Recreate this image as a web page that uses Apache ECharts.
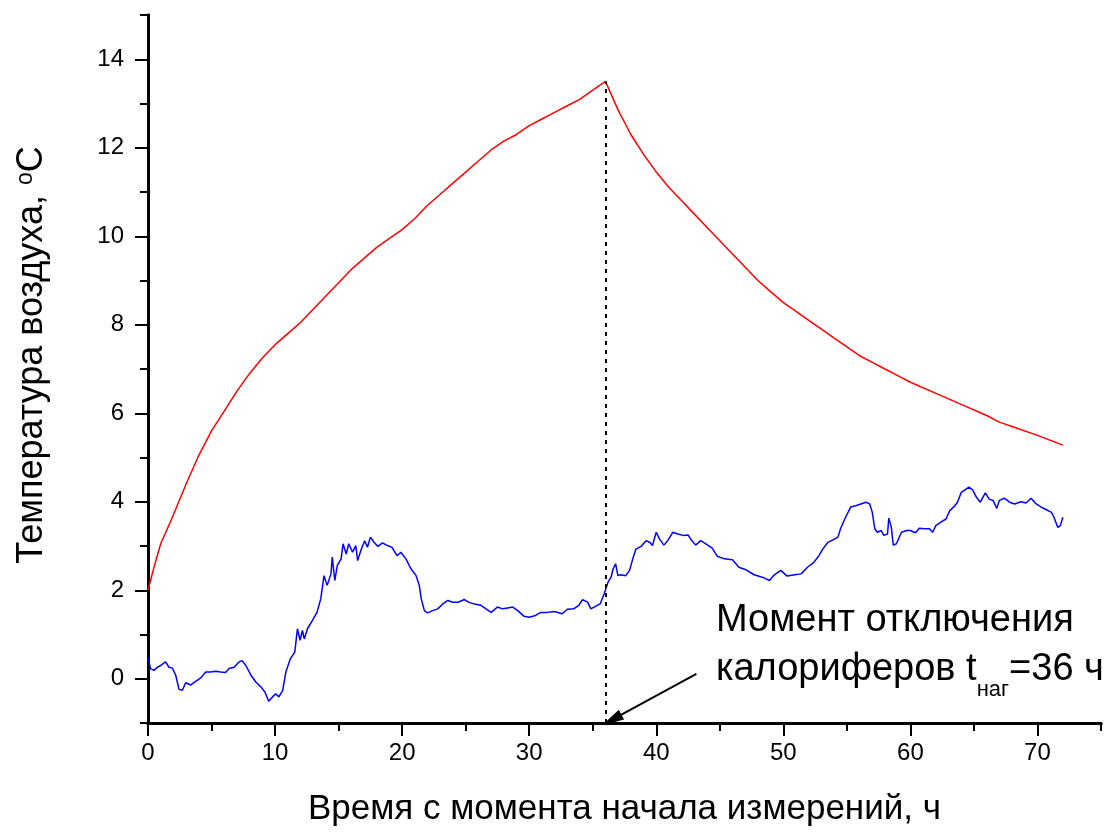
<!DOCTYPE html>
<html><head><meta charset="utf-8">
<script src="https://cdn.jsdelivr.net/npm/echarts@6/dist/echarts.min.js"></script>
<style>html,body{margin:0;padding:0;background:#fff}#c{width:1107px;height:832px}</style>
</head><body><div id="c"></div>
<script>
// ---- data ----
const redT = [0,0.5,1,1.86,3,4,5,6,7,8,9,10,11,12,13,14,15,16,17,18,19,20,21,22,23,24,25,26,27,28,29,30,31,32,33,34,35,36,37,38,39,40,41,42,43,44,45,46,47,48,49,50,51,52,53,54,55,56,57,58,59,60,62,64,66,67,68,70,72];
const redV = [2.0,2.55,3.05,3.61,4.4,5.05,5.6,6.05,6.5,6.9,7.25,7.55,7.8,8.05,8.35,8.65,8.95,9.25,9.5,9.75,9.95,10.15,10.4,10.7,10.95,11.2,11.45,11.7,11.95,12.15,12.3,12.5,12.65,12.8,12.95,13.1,13.3,13.5,12.85,12.3,11.85,11.45,11.1,10.8,10.5,10.2,9.9,9.6,9.3,9.0,8.75,8.5,8.3,8.1,7.9,7.7,7.5,7.3,7.15,7.0,6.85,6.7,6.45,6.2,5.95,5.8,5.7,5.5,5.28];
const blueT = [0,0.2,0.47,0.73,1.0,1.39,1.65,1.92,2.18,2.44,2.7,2.97,3.36,3.75,4.15,4.54,4.93,5.33,5.72,6.1,6.38,6.77,7.17,7.4,7.7,8.1,8.5,8.9,9.2,9.5,9.8,10.05,10.3,10.6,10.85,11.2,11.55,11.76,11.97,12.15,12.3,12.55,12.94,13.3,13.6,13.85,14.1,14.4,14.5,14.7,14.9,15.2,15.35,15.6,15.8,16.1,16.35,16.5,16.75,17.05,17.27,17.5,17.8,18.1,18.45,18.85,19.2,19.6,19.9,20.3,20.7,21.1,21.35,21.5,21.75,22.0,22.4,22.8,23.2,23.6,23.97,24.4,24.9,25.3,25.7,26.2,26.6,27.0,27.5,27.9,28.3,28.7,29.1,29.6,30.0,30.5,30.9,31.4,31.97,32.6,33.0,33.5,33.9,34.2,34.6,34.85,35.25,35.6,35.9,36.2,36.45,36.6,36.8,36.98,37.2,37.6,37.9,38.15,38.4,38.8,39.2,39.5,39.7,40.0,40.25,40.6,40.9,41.3,41.7,42.1,42.5,42.7,43.1,43.5,43.9,44.4,44.8,45.35,46.0,46.5,47.0,47.7,48.4,48.9,49.3,49.8,50.3,50.9,51.4,51.9,52.4,52.8,53.1,53.5,53.9,54.3,54.5,54.9,55.3,55.7,56.1,56.5,56.8,57.0,57.2,57.4,57.7,57.9,58.2,58.3,58.5,58.65,58.9,59.3,59.7,60.0,60.4,60.7,61.1,61.5,61.75,62.0,62.4,62.8,63.1,63.5,63.7,64.0,64.3,64.6,64.9,65.2,65.5,65.7,65.9,66.2,66.5,66.8,67.0,67.4,67.8,68.2,68.7,69.1,69.5,69.9,70.3,70.7,71.1,71.3,71.6,71.8,72.0];
const blueV = [0.49,0.23,0.19,0.26,0.30,0.38,0.26,0.24,0.08,-0.24,-0.26,-0.09,-0.14,-0.06,0.02,0.15,0.15,0.17,0.15,0.14,0.23,0.26,0.38,0.41,0.30,0.08,-0.08,-0.19,-0.30,-0.51,-0.41,-0.34,-0.41,-0.26,0.15,0.45,0.60,1.13,0.87,1.09,0.90,1.13,1.32,1.50,1.81,2.33,2.11,2.37,2.75,2.22,2.56,2.71,3.05,2.82,3.05,2.86,3.01,2.67,2.90,3.12,2.97,3.20,3.08,2.99,3.07,3.01,2.97,2.78,2.86,2.71,2.48,2.33,2.11,1.81,1.54,1.49,1.54,1.58,1.69,1.77,1.73,1.73,1.79,1.72,1.69,1.66,1.58,1.50,1.62,1.58,1.60,1.62,1.54,1.41,1.39,1.43,1.50,1.50,1.52,1.47,1.57,1.58,1.66,1.79,1.73,1.58,1.64,1.70,1.92,2.18,2.30,2.48,2.60,2.33,2.35,2.33,2.45,2.71,2.93,2.99,3.12,3.08,3.01,3.31,3.16,3.02,3.12,3.31,3.27,3.24,3.25,3.16,3.02,3.12,3.05,2.95,2.77,2.71,2.69,2.52,2.47,2.35,2.29,2.22,2.35,2.45,2.32,2.35,2.37,2.52,2.63,2.78,2.93,3.08,3.14,3.20,3.39,3.65,3.88,3.91,3.95,3.99,3.95,3.76,3.39,3.31,3.35,3.24,3.27,3.63,3.42,3.02,3.05,3.31,3.35,3.35,3.30,3.40,3.39,3.39,3.31,3.46,3.54,3.61,3.80,3.91,3.99,4.21,4.27,4.33,4.27,4.10,3.99,4.10,4.20,4.06,4.03,3.85,4.03,4.08,3.99,3.95,4.00,3.97,4.08,3.95,3.88,3.82,3.76,3.65,3.42,3.46,3.65];
const xMajorTicks = [0,10,20,30,40,50,60,70];
const xMinorTicks = [5,15,25,35,45,55,65,75];
const yMajorTicks = [0,2,4,6,8,10,12,14];
const yMinorTicks = [-1,1,3,5,7,9,11,13,15];
const heaterOffTime = 36;
const heaterOffPeak = 13.5;
const arrowStart = [43.16, 0.11];
const arrowEnd = [36.5, -0.93];
const xTitle = 'Время с момента начала измерений, ч';
const yTitle = 'Температура воздуха, {sup|o}C';
const noteLine1 = 'Момент отключения';
const noteLine2a = 'калориферов t';
const noteSub = 'наг';
const noteLine2b = '=36 ч';

// ---- chart ----
const fam = "'Liberation Sans', Arial, sans-serif";
const ctx2 = document.createElement('canvas').getContext('2d');
function tw(text, size){ ctx2.font = size + 'px ' + fam; return ctx2.measureText(text).width; }

const chart = echarts.init(document.getElementById('c'), null, {renderer:'canvas'});
const axisLineStyle = {color:'#000', width:3};
const tickStyle = {color:'#000', width:2};

function xAxisBase(){ return {type:'value', min:0, max:75, position:'bottom', splitLine:{show:false},
  axisLine:{show:true, onZero:false, lineStyle:axisLineStyle}}; }
function yAxisBase(){ return {type:'value', min:-1, max:15, position:'left', splitLine:{show:false},
  axisLine:{show:true, onZero:false, lineStyle:axisLineStyle}}; }

const noteX = 716;
const w2a = tw(noteLine2a, 38);
const wSub = tw(noteSub, 22);

// narrow arrow head (tip at top), padded to a square box so it keeps its shape
const arrowHead = 'path://M-11,0 M11,0 M0,0 L5.5,22 L-5.5,22 Z';

chart.setOption({
  animation:false,
  backgroundColor:'#fff',
  grid:{left:148, right:6, top:15, bottom:108, containLabel:false},
  xAxis:[
    Object.assign(xAxisBase(), {
      axisTick:{show:true, customValues:xMajorTicks, length:13, lineStyle:tickStyle},
      axisLabel:{show:true, customValues:xMajorTicks, margin:18, fontSize:24, color:'#000', fontFamily:fam},
      name:xTitle, nameLocation:'middle', nameGap:69,
      nameTextStyle:{fontSize:35, color:'#000', fontFamily:fam}
    }),
    Object.assign(xAxisBase(), {
      axisTick:{show:true, customValues:xMinorTicks, length:8, lineStyle:tickStyle},
      axisLabel:{show:false}
    })
  ],
  yAxis:[
    Object.assign(yAxisBase(), {
      axisTick:{show:true, customValues:yMajorTicks, length:13, lineStyle:tickStyle},
      axisLabel:{show:true, customValues:yMajorTicks, margin:24, fontSize:24, color:'#000', fontFamily:fam},
      name:yTitle, nameLocation:'middle', nameGap:98,
      nameTextStyle:{fontSize:36, color:'#000', fontFamily:fam, padding:[0,0,0,28],
        rich:{sup:{fontSize:23, color:'#000', fontFamily:fam, verticalAlign:'top', lineHeight:23}}}
    }),
    Object.assign(yAxisBase(), {
      axisTick:{show:true, customValues:yMinorTicks, length:8, lineStyle:tickStyle},
      axisLabel:{show:false}
    })
  ],
  series:[
    {type:'line', name:'red', xAxisIndex:0, yAxisIndex:0, showSymbol:false, silent:true,
     data: redT.map((t,i)=>[t, redV[i]]),
     lineStyle:{color:'#ff0000', width:1.5},
     markLine:{silent:true, symbol:['none','none'], label:{show:false},
       lineStyle:{color:'#000', width:2, type:[4,5]},
       data:[[{coord:[heaterOffTime,-1]},{coord:[heaterOffTime,heaterOffPeak]}]]}
    },
    {type:'line', name:'blue', xAxisIndex:0, yAxisIndex:0, showSymbol:false, silent:true,
     data: blueT.map((t,i)=>[t, blueV[i]]),
     lineStyle:{color:'#0000ff', width:1.5},
     markLine:{silent:true, symbol:['none', arrowHead], symbolSize:22, label:{show:false},
       lineStyle:{color:'#000', width:2, type:'solid'},
       itemStyle:{color:'#000'},
       data:[[{coord:arrowStart},{coord:arrowEnd}]]}
    }
  ],
  graphic:[
    {type:'text', x:noteX, y:621, silent:true,
     style:{text:noteLine1, fontSize:38, fontFamily:fam, fill:'#000', verticalAlign:'middle', align:'left'}},
    {type:'text', x:noteX, y:670, silent:true,
     style:{text:noteLine2a, fontSize:38, fontFamily:fam, fill:'#000', verticalAlign:'middle', align:'left'}},
    {type:'text', x:noteX + w2a, y:690, silent:true,
     style:{text:noteSub, fontSize:22, fontFamily:fam, fill:'#000', verticalAlign:'middle', align:'left'}},
    {type:'text', x:noteX + w2a + wSub, y:670, silent:true,
     style:{text:noteLine2b, fontSize:38, fontFamily:fam, fill:'#000', verticalAlign:'middle', align:'left'}}
  ]
});
</script>
</body></html>
